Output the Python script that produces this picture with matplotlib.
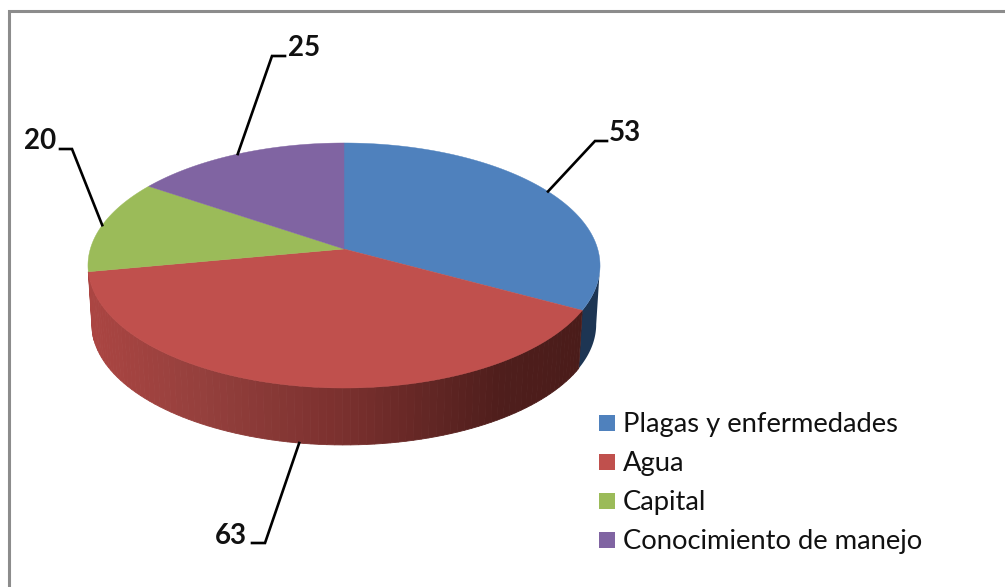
import numpy as np
import matplotlib
matplotlib.use("Agg")
import matplotlib.pyplot as plt
from matplotlib.colors import to_rgb
from matplotlib.patches import Rectangle

# data
categories = ["Plagas y enfermedades", "Agua", "Capital", "Conocimiento de manejo"]
values = [53, 63, 20, 25]
colors = ["#4f81bd", "#c0504d", "#9bbb59", "#8064a2"]

# 3D pie look: centre, radii and perspective, in pixels
CX, CY = 344, 249
A, B, K = 253.7, 120.3, 0.1347
DEPTH, SHRINK = 59, 0.985

plt.rcParams["font.family"] = ["Lato", "DejaVu Sans"]

fig = plt.figure(figsize=(10.05, 5.87), dpi=100)
ax = fig.add_axes([0, 0, 1, 1])
ax.set_xlim(0, 1005)
ax.set_ylim(587, 0)
ax.axis("off")


def top_rim(t):
    den = 1 + K * np.cos(t)
    return CX + A * np.sin(t) / den, CY - B * np.cos(t) / den


def bottom_rim(t):
    den = 1 + K * np.cos(t)
    return (CX + SHRINK * A * np.sin(t) / den,
            CY + DEPTH - SHRINK * B * np.cos(t) / den)


# slice limits, clockwise from the top
edges = np.concatenate([[0], np.cumsum(values)]) / np.sum(values) * 2 * np.pi

# frame
ax.plot([9, 9, 1005], [587, 11, 11], color="#8c8c8c", lw=2.2, solid_joinstyle="miter")

# side of the blue slice, from the widest point of the rim
t = np.linspace(np.arccos(-K), edges[1], 40)
x1, y1 = top_rim(t)
x2, y2 = bottom_rim(t)
ax.fill(np.r_[x1, x2[::-1]], np.r_[y1, y2[::-1]], color="#1d3553", lw=0)

# side of the red slice, shaded left to right
stops_x = [88, 200, 344, 500, 585]
stops_c = ["#ab4542", "#95403d", "#7a302e", "#4f1e1c", "#4a1c1a"]
stops_rgb = np.array([to_rgb(c) for c in stops_c])
t = np.linspace(edges[1], edges[2], 90)
x1, y1 = top_rim(t)
x2, y2 = bottom_rim(t)
for i in range(len(t) - 1):
    xm = (x1[i] + x1[i + 1]) / 2
    rgb = [np.interp(xm, stops_x, stops_rgb[:, c]) for c in range(3)]
    ax.fill([x1[i], x1[i + 1], x2[i + 1], x2[i]],
            [y1[i], y1[i + 1], y2[i + 1], y2[i]],
            facecolor=rgb, edgecolor=rgb, lw=0.6)

# top of the pie
for i, col in enumerate(colors):
    t = np.linspace(edges[i], edges[i + 1], 120)
    x, y = top_rim(t)
    ax.fill(np.r_[CX, x], np.r_[CY, y], color=col, lw=0.3)

# leader lines and value labels
mids = (edges[:-1] + edges[1:]) / 2
elbows = [(595, 141), (265, 543), (72, 149), (272, 56)]
ends = [(607, 141), (252, 543), (60, 149), (285, 56)]
labels = [(625, 133), (231, 536), (40, 141), (304, 48)]
for i, v in enumerate(values):
    # the water label leaves from the lower rim, the others from the top
    x0, y0 = bottom_rim(mids[i]) if i == 1 else top_rim(mids[i])
    ax.plot([x0, elbows[i][0], ends[i][0]], [y0, elbows[i][1], ends[i][1]],
            color="black", lw=1.9, solid_joinstyle="miter")
    ax.text(labels[i][0], labels[i][1], str(v), fontsize=20, fontweight="bold",
            ha="center", va="center", color="#111111")

# legend
legend_y = [423, 462, 501, 540]
for name, col, ly in zip(categories, colors, legend_y):
    ax.add_patch(Rectangle((599, ly - 8), 16, 16, facecolor=col, edgecolor="none"))
    ax.text(623, ly + 1.5, name, fontsize=19.7, ha="left", va="center", color="#111111")

fig.savefig("out.png", dpi=100)
